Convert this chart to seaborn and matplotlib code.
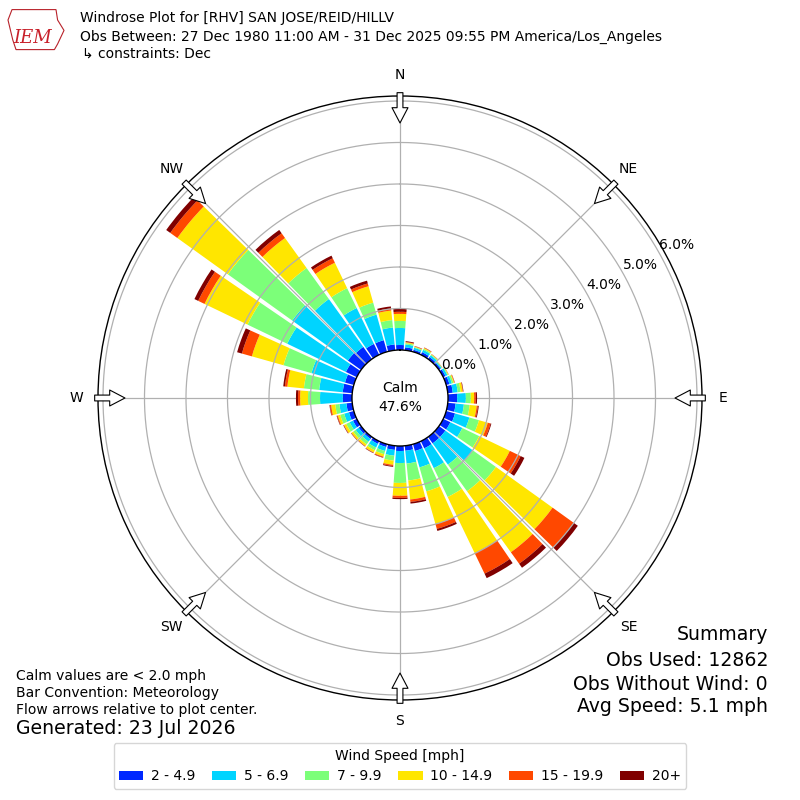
import numpy as np
import matplotlib
matplotlib.use("Agg")
import matplotlib.pyplot as plt
import seaborn as sns
from matplotlib.patches import Polygon

# direction bins (deg, meteorological) and % frequency per speed class
directions = np.arange(0, 360, 10)
speed_labels = ["2 - 4.9", "5 - 6.9", "7 - 9.9", "10 - 14.9", "15 - 19.9", "20+"]
colors = ["#0028ff", "#00d4ff", "#7cff79", "#ffe600", "#ff4800", "#800000"]

spd_2_5 = [0.12, 0.07, 0.05, 0.07, 0.06, 0.05, 0.06, 0.08, 0.12, 0.22, 0.19, 0.22,
           0.19, 0.19, 0.19, 0.19, 0.17, 0.12, 0.12, 0.10, 0.07, 0.07, 0.06, 0.07,
           0.10, 0.12, 0.14, 0.22, 0.23, 0.22, 0.29, 0.39, 0.36, 0.29, 0.29, 0.14]
spd_5_7 = [0.41, 0.07, 0.05, 0.06, 0.05, 0.03, 0.05, 0.06, 0.12, 0.21, 0.20, 0.36,
           0.32, 0.82, 0.63, 0.53, 0.41, 0.31, 0.29, 0.14, 0.10, 0.10, 0.08, 0.09,
           0.09, 0.12, 0.17, 0.55, 0.57, 0.84, 1.57, 1.65, 1.42, 0.96, 0.64, 0.41]
spd_7_10 = [0.17, 0.03, 0.02, 0.03, 0.02, 0.012, 0.02, 0.04, 0.07, 0.12, 0.14, 0.24,
            0.45, 0.68, 0.79, 0.77, 0.60, 0.41, 0.48, 0.12, 0.08, 0.07, 0.08, 0.07,
            0.09, 0.10, 0.10, 0.29, 0.37, 0.70, 1.06, 1.91, 0.92, 0.53, 0.30, 0.18]
spd_10_15 = [0.17, 0.02, 0.01, 0.02, 0.01, 0.005, 0.01, 0.02, 0.05, 0.08, 0.17, 0.22,
             0.82, 1.68, 1.81, 1.50, 0.82, 0.46, 0.31, 0.10, 0.06, 0.06, 0.05, 0.05,
             0.06, 0.06, 0.10, 0.19, 0.40, 0.79, 1.15, 1.50, 0.89, 0.68, 0.41, 0.23]
spd_15_20 = [0.05, 0.01, 0.01, 0.01, 0.005, 0.003, 0.005, 0.01, 0.01, 0.04, 0.03, 0.07,
             0.29, 0.63, 0.34, 0.55, 0.12, 0.06, 0.05, 0.03, 0.02, 0.01, 0.01, 0.01,
             0.01, 0.02, 0.03, 0.05, 0.06, 0.25, 0.17, 0.21, 0.14, 0.12, 0.07, 0.05]
spd_20p = [0.07, 0.02, 0.005, 0.005, 0.003, 0.002, 0.002, 0.005, 0.01, 0.03, 0.02, 0.02,
           0.10, 0.12, 0.12, 0.12, 0.05, 0.04, 0.03, 0.02, 0.01, 0.01, 0.007, 0.007,
           0.01, 0.01, 0.01, 0.05, 0.04, 0.12, 0.10, 0.12, 0.10, 0.07, 0.07, 0.05]

series = [spd_2_5, spd_5_7, spd_7_10, spd_10_15, spd_15_20, spd_20p]
ring_values = [0, 1, 2, 3, 4, 5, 6]
compass = ["N", "NE", "E", "SE", "S", "SW", "W", "NW"]

sns.set_style("white")
plt.rcParams["font.family"] = ["DejaVu Sans"]
plt.rcParams["text.color"] = "black"
plt.rcParams["legend.labelcolor"] = "black"
palette = sns.color_palette(colors)

fig = plt.figure(figsize=(8, 8), dpi=100)
ax = fig.add_axes([0.1225, 0.125, 0.755, 0.755], polar=True)
ax.set_theta_zero_location("N")
ax.set_theta_direction(-1)

theta = np.deg2rad(directions)
bottom = np.zeros(len(directions))
for vals, col, lab in zip(series, palette, speed_labels):
    vals = np.array(vals)
    ax.bar(theta, vals, width=np.deg2rad(8.6), bottom=bottom, color=col,
           linewidth=0, label=lab, zorder=2)
    bottom += vals

# rings drawn over the bars, spokes underneath
circ = np.linspace(0, 2 * np.pi, 400)
for r in ring_values[1:]:
    ax.plot(circ, np.full_like(circ, r), color="#b0b0b0", lw=0.9, zorder=3)

ax.set_xticks(np.deg2rad(np.arange(0, 360, 45)))
ax.set_xticklabels([])
ax.set_yticks(ring_values)
ax.set_yticklabels([])
ax.yaxis.grid(False)
ax.xaxis.grid(True, color="#b0b0b0", lw=0.9)
ax.set_axisbelow(True)
ax.set_ylim(0, 6.12)
ax.set_rorigin(-1.157)
ax.spines["polar"].set_color("black")
ax.spines["polar"].set_linewidth(1.0)
ax.spines["inner"].set_color("black")
ax.spines["inner"].set_linewidth(1.0)

for r in ring_values:
    ax.text(np.deg2rad(61), r + 0.46, f"{r:.1f}%", ha="center", va="center", fontsize=10)

for ang, lab in zip(np.arange(0, 360, 45), compass):
    t = np.deg2rad(ang)
    ax.text(t, 6.63, lab, ha="center", va="center", fontsize=10)
    ax.annotate("", xy=(t, 5.47), xytext=(t, 6.2), annotation_clip=False,
                arrowprops=dict(arrowstyle="simple,head_length=1.1,head_width=1.15,tail_width=0.42",
                                fc="white", ec="black", lw=0.8, shrinkA=0, shrinkB=0,
                                mutation_scale=10), zorder=6)

fig.text(0.5, 1 - 388 / 800, "Calm", ha="center", va="center", fontsize=10)
fig.text(0.5, 1 - 407 / 800, "47.6%", ha="center", va="center", fontsize=10)

# header
logo = Polygon([(0.015, 0.988), (0.070, 0.988), (0.072, 0.975), (0.080, 0.962),
                (0.072, 0.945), (0.068, 0.938), (0.020, 0.938), (0.016, 0.950),
                (0.010, 0.975)], closed=True, fill=False, ec="#b8222a", lw=0.8,
               transform=fig.transFigure)
fig.patches.append(logo)
fig.text(0.041, 1 - 38 / 800, "IEM", ha="center", va="center", fontsize=13,
         color="#c8202a", family="DejaVu Serif", style="italic")
fig.text(0.10, 1 - 18 / 800, "Windrose Plot for [RHV] SAN JOSE/REID/HILLV", va="center", fontsize=10)
fig.text(0.10, 1 - 37 / 800,
         "Obs Between: 27 Dec 1980 11:00 AM - 31 Dec 2025 09:55 PM America/Los_Angeles",
         va="center", fontsize=10)
fig.text(0.102, 1 - 54 / 800, "\u21b3 constraints: Dec", va="center", fontsize=10)

# footer notes
fig.text(0.02, 1 - 676 / 800, "Calm values are < 2.0 mph", va="center", fontsize=10)
fig.text(0.02, 1 - 693 / 800, "Bar Convention: Meteorology", va="center", fontsize=10)
fig.text(0.02, 1 - 710 / 800, "Flow arrows relative to plot center.", va="center", fontsize=10)
fig.text(0.02, 1 - 729 / 800, "Generated: 23 Jul 2026", va="center", fontsize=13.6)

fig.text(0.96, 1 - 635 / 800, "Summary", ha="right", va="center", fontsize=13.6)
fig.text(0.96, 1 - 660 / 800, "Obs Used: 12862", ha="right", va="center", fontsize=13.6)
fig.text(0.96, 1 - 684 / 800, "Obs Without Wind: 0", ha="right", va="center", fontsize=13.6)
fig.text(0.96, 1 - 706 / 800, "Avg Speed: 5.1 mph", ha="right", va="center", fontsize=13.6)

handles, labels = ax.get_legend_handles_labels()
leg = fig.legend(handles, labels, loc="center", bbox_to_anchor=(0.5, 1 - 766 / 800),
                 ncol=6, title="Wind Speed [mph]", fontsize=10, title_fontsize=10,
                 handlelength=1.75, handletextpad=0.55, columnspacing=1.2,
                 frameon=True, fancybox=True, borderpad=0.4)
leg.get_frame().set_edgecolor("#cccccc")

fig.savefig("out.png", dpi=100, facecolor="white")
